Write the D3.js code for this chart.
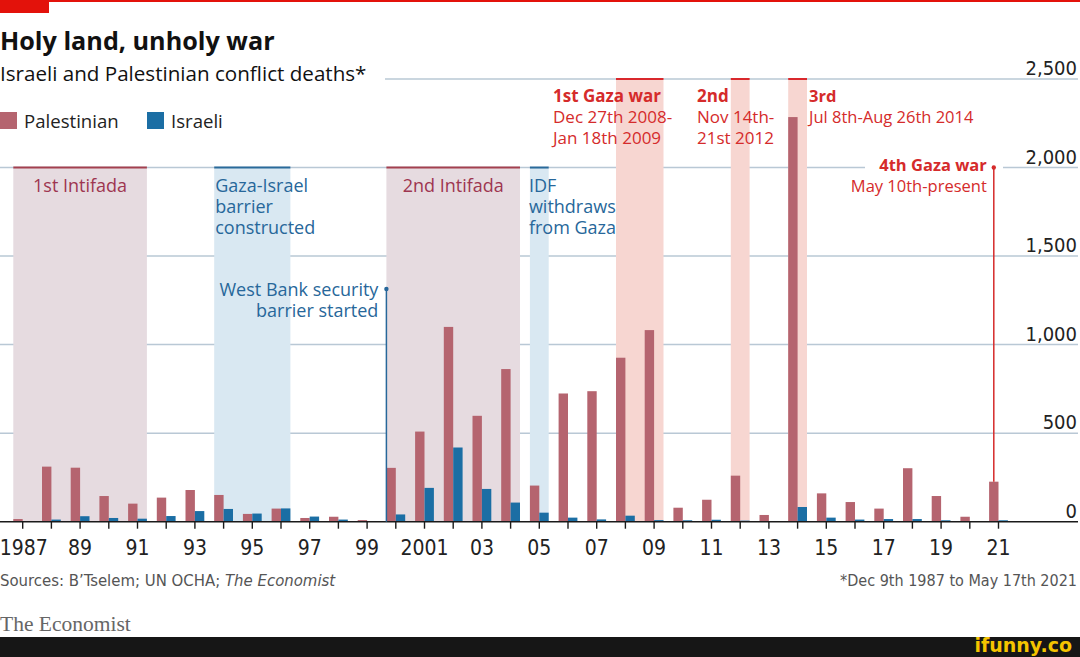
<!DOCTYPE html>
<html>
<head>
<meta charset="utf-8">
<script src="https://cdn.jsdelivr.net/npm/d3@7"></script>
<style>
  html, body { margin: 0; padding: 0; background: #fff; }
  svg { display: block; }
</style>
</head>
<body>
<svg id="chart" width="1080" height="657"></svg>
<script>
// ---------------- DATA ----------------
const years = [1987,1988,1989,1990,1991,1992,1993,1994,1995,1996,1997,1998,1999,2000,
  2001,2002,2003,2004,2005,2006,2007,2008,2009,2010,2011,2012,2013,2014,2015,2016,
  2017,2018,2019,2020,2021];
const palestinian = [15,311,305,145,102,136,179,151,44,74,21,28,9,304,509,1100,598,862,
  204,724,737,926,1082,79,124,260,38,2285,160,111,74,302,145,28,226];
const israeli = [0,12,31,21,17,32,60,72,46,75,29,12,4,41,191,419,185,108,51,23,13,34,9,
  8,11,6,4,83,23,12,15,15,8,3,8];
const yTicks = [0,500,1000,1500,2000,2500];
const xTickLabels = ["1987","89","91","93","95","97","99","2001","03","05","07","09",
  "11","13","15","17","19","21"];
const seriesNames = ["Palestinian","Israeli"];

// shaded periods: [first year, last year, kind, top value]
const periodStart = [1987, 1994, 2000, 2005, 2008, 2012, 2014];
const periodEnd   = [1991, 1996, 2004, 2005, 2009, 2012, 2014];
const periodKind  = ["pal","isr","pal","isr","war","war","war"];
const periodTop   = [2000, 2000, 2000, 2000, 2500, 2500, 2500];

// ---------------- STYLE ----------------
const C = {
  pal: "#b5646f", isr: "#1b6ea4",
  shade: { pal: "#e6dbe0", isr: "#d9e8f2", war: "#f7d6d1" },
  top:   { pal: "#a3404f", isr: "#2a6a9a", war: "#d9282c" },
  text:  { pal: "#9e3650", isr: "#27679a", war: "#d52b2b" },
  grid: "#b9c8d5", axis: "#1a1a1a", label: "#222"
};
const FC = "'Liberation Sans Narrow','DejaVu Sans Condensed',sans-serif";
const FS = "'Open Sans','Noto Sans',sans-serif";

const svg = d3.select("#chart");

// scales
const x = d3.scaleBand().domain(years).range([8.35, 1012.85])
  .paddingInner(0.345).paddingOuter(0.345/2);
const bw = x.bandwidth();
const xc = y => x(y) + bw/2;
const yS = d3.scaleLinear().domain([0, 2500]).range([521.7, 79]);

// top red brand
svg.append("rect").attr("x",0).attr("y",0).attr("width",1080).attr("height",2).attr("fill","#e3120b");
svg.append("rect").attr("x",0).attr("y",0).attr("width",49).attr("height",13).attr("fill","#e3120b");

// title
svg.append("text").attr("x",0).attr("y",50).text("Holy land, unholy war")
  .attr("font-family",FS).attr("font-weight",700).attr("font-size",25.2).attr("fill","#111");
svg.append("text").attr("x",0).attr("y",81).text("Israeli and Palestinian conflict deaths*")
  .attr("font-family",FS).attr("font-size",20.6).attr("fill","#111");

// legend
const leg = svg.append("g");
[[0, C.pal, seriesNames[0]], [147, C.isr, seriesNames[1]]].forEach(([lx, col, name]) => {
  leg.append("rect").attr("x",lx).attr("y",112).attr("width",17).attr("height",17).attr("fill",col);
  leg.append("text").attr("x",lx+24).attr("y",128).text(name)
    .attr("font-family",FS).attr("font-size",18.6).attr("fill","#222");
});

// shaded periods
const pg = svg.append("g");
periodStart.forEach((s, i) => {
  const x0 = x(s), x1 = x(periodEnd[i]) + bw, k = periodKind[i];
  const top = yS(periodTop[i]);
  pg.append("rect").attr("x",x0).attr("y",top).attr("width",x1-x0).attr("height",yS(0)-top)
    .attr("fill",C.shade[k]);
});

// gridlines
const gg = svg.append("g");
yTicks.filter(v => v > 0).forEach(v => {
  gg.append("line").attr("x1", v === 2500 ? 385 : 0).attr("x2",1078)
    .attr("y1",yS(v)).attr("y2",yS(v)).attr("stroke",C.grid).attr("stroke-width",1.5);
});
// period top lines
periodStart.forEach((s, i) => {
  const x0 = x(s), x1 = x(periodEnd[i]) + bw, k = periodKind[i];
  const top = yS(periodTop[i]);
  pg.append("line").attr("x1",x0).attr("x2",x1).attr("y1",top).attr("y2",top)
    .attr("stroke",C.top[k]).attr("stroke-width",2);
});
svg.node().appendChild(pg.node());

// y labels
yTicks.forEach(v => {
  svg.append("text").attr("x",1077).attr("y",yS(v)-4).attr("text-anchor","end")
    .text(d3.format(",")(v)).attr("font-family",FC).attr("font-size",20).attr("fill",C.label);
});

// bars
const bars = svg.append("g");
bars.selectAll(".p").data(years).join("rect")
  .attr("x", d => x(d)).attr("width", bw/2)
  .attr("y", (d,i) => yS(palestinian[i])).attr("height", (d,i) => yS(0)-yS(palestinian[i]))
  .attr("fill", C.pal);
bars.selectAll(".i").data(years).join("rect")
  .attr("x", d => x(d) + bw/2).attr("width", bw/2)
  .attr("y", (d,i) => yS(israeli[i])).attr("height", (d,i) => yS(0)-yS(israeli[i]))
  .attr("fill", C.isr);

// x axis
svg.append("line").attr("x1",0).attr("x2",1078).attr("y1",yS(0)).attr("y2",yS(0))
  .attr("stroke",C.axis).attr("stroke-width",1.6);
const xg = svg.append("g");
years.forEach(yr => {
  xg.append("line").attr("x1",xc(yr)).attr("x2",xc(yr)).attr("y1",yS(0)).attr("y2",yS(0)+7)
    .attr("stroke",C.axis).attr("stroke-width",1.4);
});
years.filter((yr,i) => i % 2 === 0).forEach((yr, i) => {
  xg.append("text").attr("x",xc(yr) + (i === 0 ? 1 : 0)).attr("y",555).attr("text-anchor","middle")
    .text(xTickLabels[i]).attr("font-family",FC).attr("font-size",21).attr("fill",C.label);
});

// annotations
const ann = svg.append("g").attr("font-family",FS).attr("font-size",18);
function lines(xp, yp, arr, col, anchor, boldFirst, size) {
  arr.forEach((t, j) => {
    const el = ann.append("text").attr("x",xp).attr("y",yp + j*21).text(t).attr("fill",col)
      .attr("text-anchor",anchor||"start").attr("font-weight", boldFirst && j===0 ? 700 : 400);
    if (size) el.attr("font-size", size);
  });
}
const cx = (a,b) => (x(a) + x(b) + bw)/2;
lines(cx(1987,1991), 192, ["1st Intifada"], C.text.pal, "middle");
lines(x(1994)+1, 192, ["Gaza-Israel","barrier","constructed"], C.text.isr);
lines(cx(2000,2004), 192, ["2nd Intifada"], C.text.pal, "middle");
lines(x(2005)-1, 192, ["IDF","withdraws","from Gaza"], C.text.isr);

// West Bank barrier marker
const wbx = x(2000);
ann.append("line").attr("x1",wbx).attr("x2",wbx).attr("y1",289).attr("y2",yS(0))
  .attr("stroke",C.text.isr).attr("stroke-width",1.5);
ann.append("circle").attr("cx",wbx).attr("cy",289).attr("r",2.2).attr("fill",C.text.isr);
lines(wbx-8, 296, ["West Bank security","barrier started"], C.text.isr, "end");

// Gaza wars
lines(553, 102, ["1st Gaza war","Dec 27th 2008-","Jan 18th 2009"], C.text.war, "start", true, 17);
lines(697, 102, ["2nd","Nov 14th-","21st 2012"], C.text.war, "start", true, 17);
lines(x(2014)+bw+2, 102, ["3rd","Jul 8th-Aug 26th 2014"], C.text.war, "start", true, 16.5);

// 4th Gaza war
const gx = x(2021) + bw/4;
ann.append("rect").attr("x",865).attr("y",yS(2000)-3).attr("width",138).attr("height",6).attr("fill","#fff");
ann.append("line").attr("x1",gx).attr("x2",gx).attr("y1",yS(2000)).attr("y2",yS(palestinian[34]))
  .attr("stroke",C.text.war).attr("stroke-width",1.5);
ann.append("circle").attr("cx",gx).attr("cy",yS(2000)).attr("r",2.2).attr("fill",C.text.war);
lines(gx-7, 171, ["4th Gaza war","May 10th-present"], C.text.war, "end", true, 16.5);

// footer
svg.append("text").attr("x",0).attr("y",586).attr("font-family",FC).attr("font-size",16.6)
  .attr("fill","#555").html("Sources: B’Tselem; UN OCHA; <tspan font-style='italic'>The Economist</tspan>");
svg.append("text").attr("x",1077).attr("y",586).attr("text-anchor","end").attr("font-family",FC)
  .attr("font-size",16).attr("fill","#555").text("*Dec 9th 1987 to May 17th 2021");
svg.append("text").attr("x",0).attr("y",631).attr("font-family","'Liberation Serif','DejaVu Serif',serif")
  .attr("font-size",21.5).attr("fill","#666").text("The Economist");
svg.append("rect").attr("x",0).attr("y",637).attr("width",1080).attr("height",20).attr("fill","#161616");
svg.append("text").attr("x",1072).attr("y",652).attr("text-anchor","end")
  .attr("font-family","'DejaVu Sans',sans-serif").attr("font-weight",700).attr("font-size",19)
  .attr("fill","#f5c400").text("ifunny.co");
</script>
</body>
</html>
